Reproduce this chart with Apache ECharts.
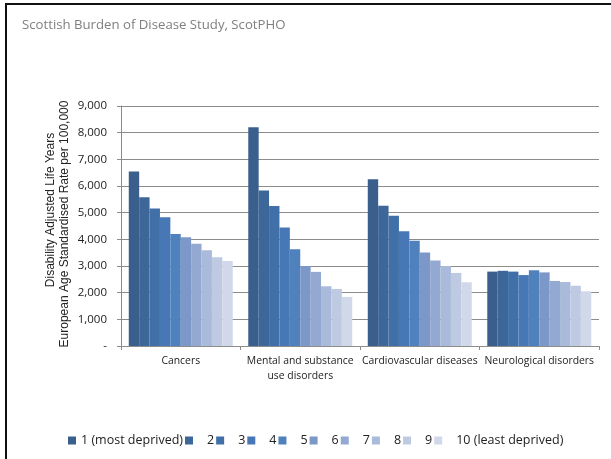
<!DOCTYPE html>
<html>
<head>
<meta charset="utf-8">
<script src="https://cdn.jsdelivr.net/npm/echarts@6/dist/echarts.min.js"></script>
<style>
  html, body { margin: 0; padding: 0; background: #fff; }
  #chart { position: absolute; left: 0; top: 0; width: 611px; height: 459px; }
  #frame { position: absolute; left: 5px; top: 3px; right: 0; bottom: 0;
           border-top: 2px solid #111; border-left: 2px solid #111; pointer-events: none; }
</style>
</head>
<body>
<div id="chart"></div>
<div id="frame"></div>
<script>
// Disease groups along the x axis
const categories = ['Cancers', 'Mental and substance\nuse disorders', 'Cardiovascular diseases', 'Neurological disorders'];

// Deprivation deciles (legend entries)
const deciles = ['1 (most deprived)', '2', '3', '4', '5', '6', '7', '8', '9', '10 (least deprived)'];

// DALY rate per 100,000 for each decile, one value per disease group
const decile1  = [6540, 8200, 6250, 2790];
const decile2  = [5580, 5830, 5260, 2820];
const decile3  = [5160, 5250, 4880, 2790];
const decile4  = [4830, 4440, 4300, 2660];
const decile5  = [4200, 3630, 3950, 2840];
const decile6  = [4080, 3000, 3510, 2760];
const decile7  = [3830, 2780, 3210, 2440];
const decile8  = [3590, 2240, 3000, 2400];
const decile9  = [3330, 2140, 2740, 2260];
const decile10 = [3190, 1840, 2390, 2050];

const yTicks = { min: 0, max: 9000, interval: 1000 };

const colors = ['#3A5F8C', '#3D6699', '#4170A8', '#4778B5', '#4F81BD',
                '#7B98C8', '#93A9D1', '#A9BADA', '#BECAE2', '#D0D8EA'];

const values = [decile1, decile2, decile3, decile4, decile5, decile6, decile7, decile8, decile9, decile10];

const labelFont = 'Open Sans, Noto Sans, sans-serif';

const chart = echarts.init(document.getElementById('chart'), null, { renderer: 'canvas' });

chart.setOption({
  animation: false,
  backgroundColor: '#fff',
  title: {
    text: 'Scottish Burden of Disease Study, ScotPHO',
    left: 22, top: 19, padding: 0,
    textStyle: { fontFamily: labelFont, fontSize: 13.2, fontWeight: 'normal', color: '#7F7F7F' }
  },
  graphic: [
    {
      type: 'text', x: 51, y: 210, rotation: Math.PI / 2,
      style: { text: 'Disability Adjusted Life Years', font: '12px "Liberation Sans", Arial, sans-serif',
               fill: '#222', align: 'center', verticalAlign: 'middle' }
    },
    {
      type: 'text', x: 65, y: 224, rotation: Math.PI / 2,
      style: { text: 'European Age Standardised Rate per 100,000', font: '12px "Liberation Sans", Arial, sans-serif',
               fill: '#222', align: 'center', verticalAlign: 'middle' }
    }
  ],
  legend: {
    data: deciles,
    left: 63, top: 429,
    itemWidth: 8, itemHeight: 8, itemGap: 2,
    icon: 'rect',
    textStyle: {
      fontFamily: labelFont, fontSize: 12.5, color: '#222',
      rich: { p: { width: 9 } }
    },
    formatter: name => name.indexOf('(most') >= 0 ? name : '{p|}' + name
  },
  grid: { left: 121, right: 12, top: 106, bottom: 113, containLabel: false },
  xAxis: {
    type: 'category',
    data: categories,
    axisLine: { lineStyle: { color: '#8C8C8C' } },
    axisTick: { show: true, length: 4, lineStyle: { color: '#8C8C8C' } },
    axisLabel: { interval: 0, margin: 8, lineHeight: 15,
                 fontFamily: labelFont, fontSize: 10.4, color: '#222' }
  },
  yAxis: {
    type: 'value',
    min: yTicks.min, max: yTicks.max, interval: yTicks.interval,
    axisLine: { show: true, lineStyle: { color: '#8C8C8C' } },
    axisTick: { show: true, length: 4, lineStyle: { color: '#8C8C8C' } },
    splitLine: { lineStyle: { color: '#8C8C8C' } },
    axisLabel: {
      margin: 14, fontFamily: labelFont, fontSize: 11.5, color: '#222',
      formatter: v => v === 0 ? '-' : v.toLocaleString('en-US')
    }
  },
  series: deciles.map((name, i) => ({
    name,
    type: 'bar',
    data: values[i],
    barGap: '0%',
    barCategoryGap: '13%',
    itemStyle: { color: colors[i] }
  }))
});
</script>
</body>
</html>
